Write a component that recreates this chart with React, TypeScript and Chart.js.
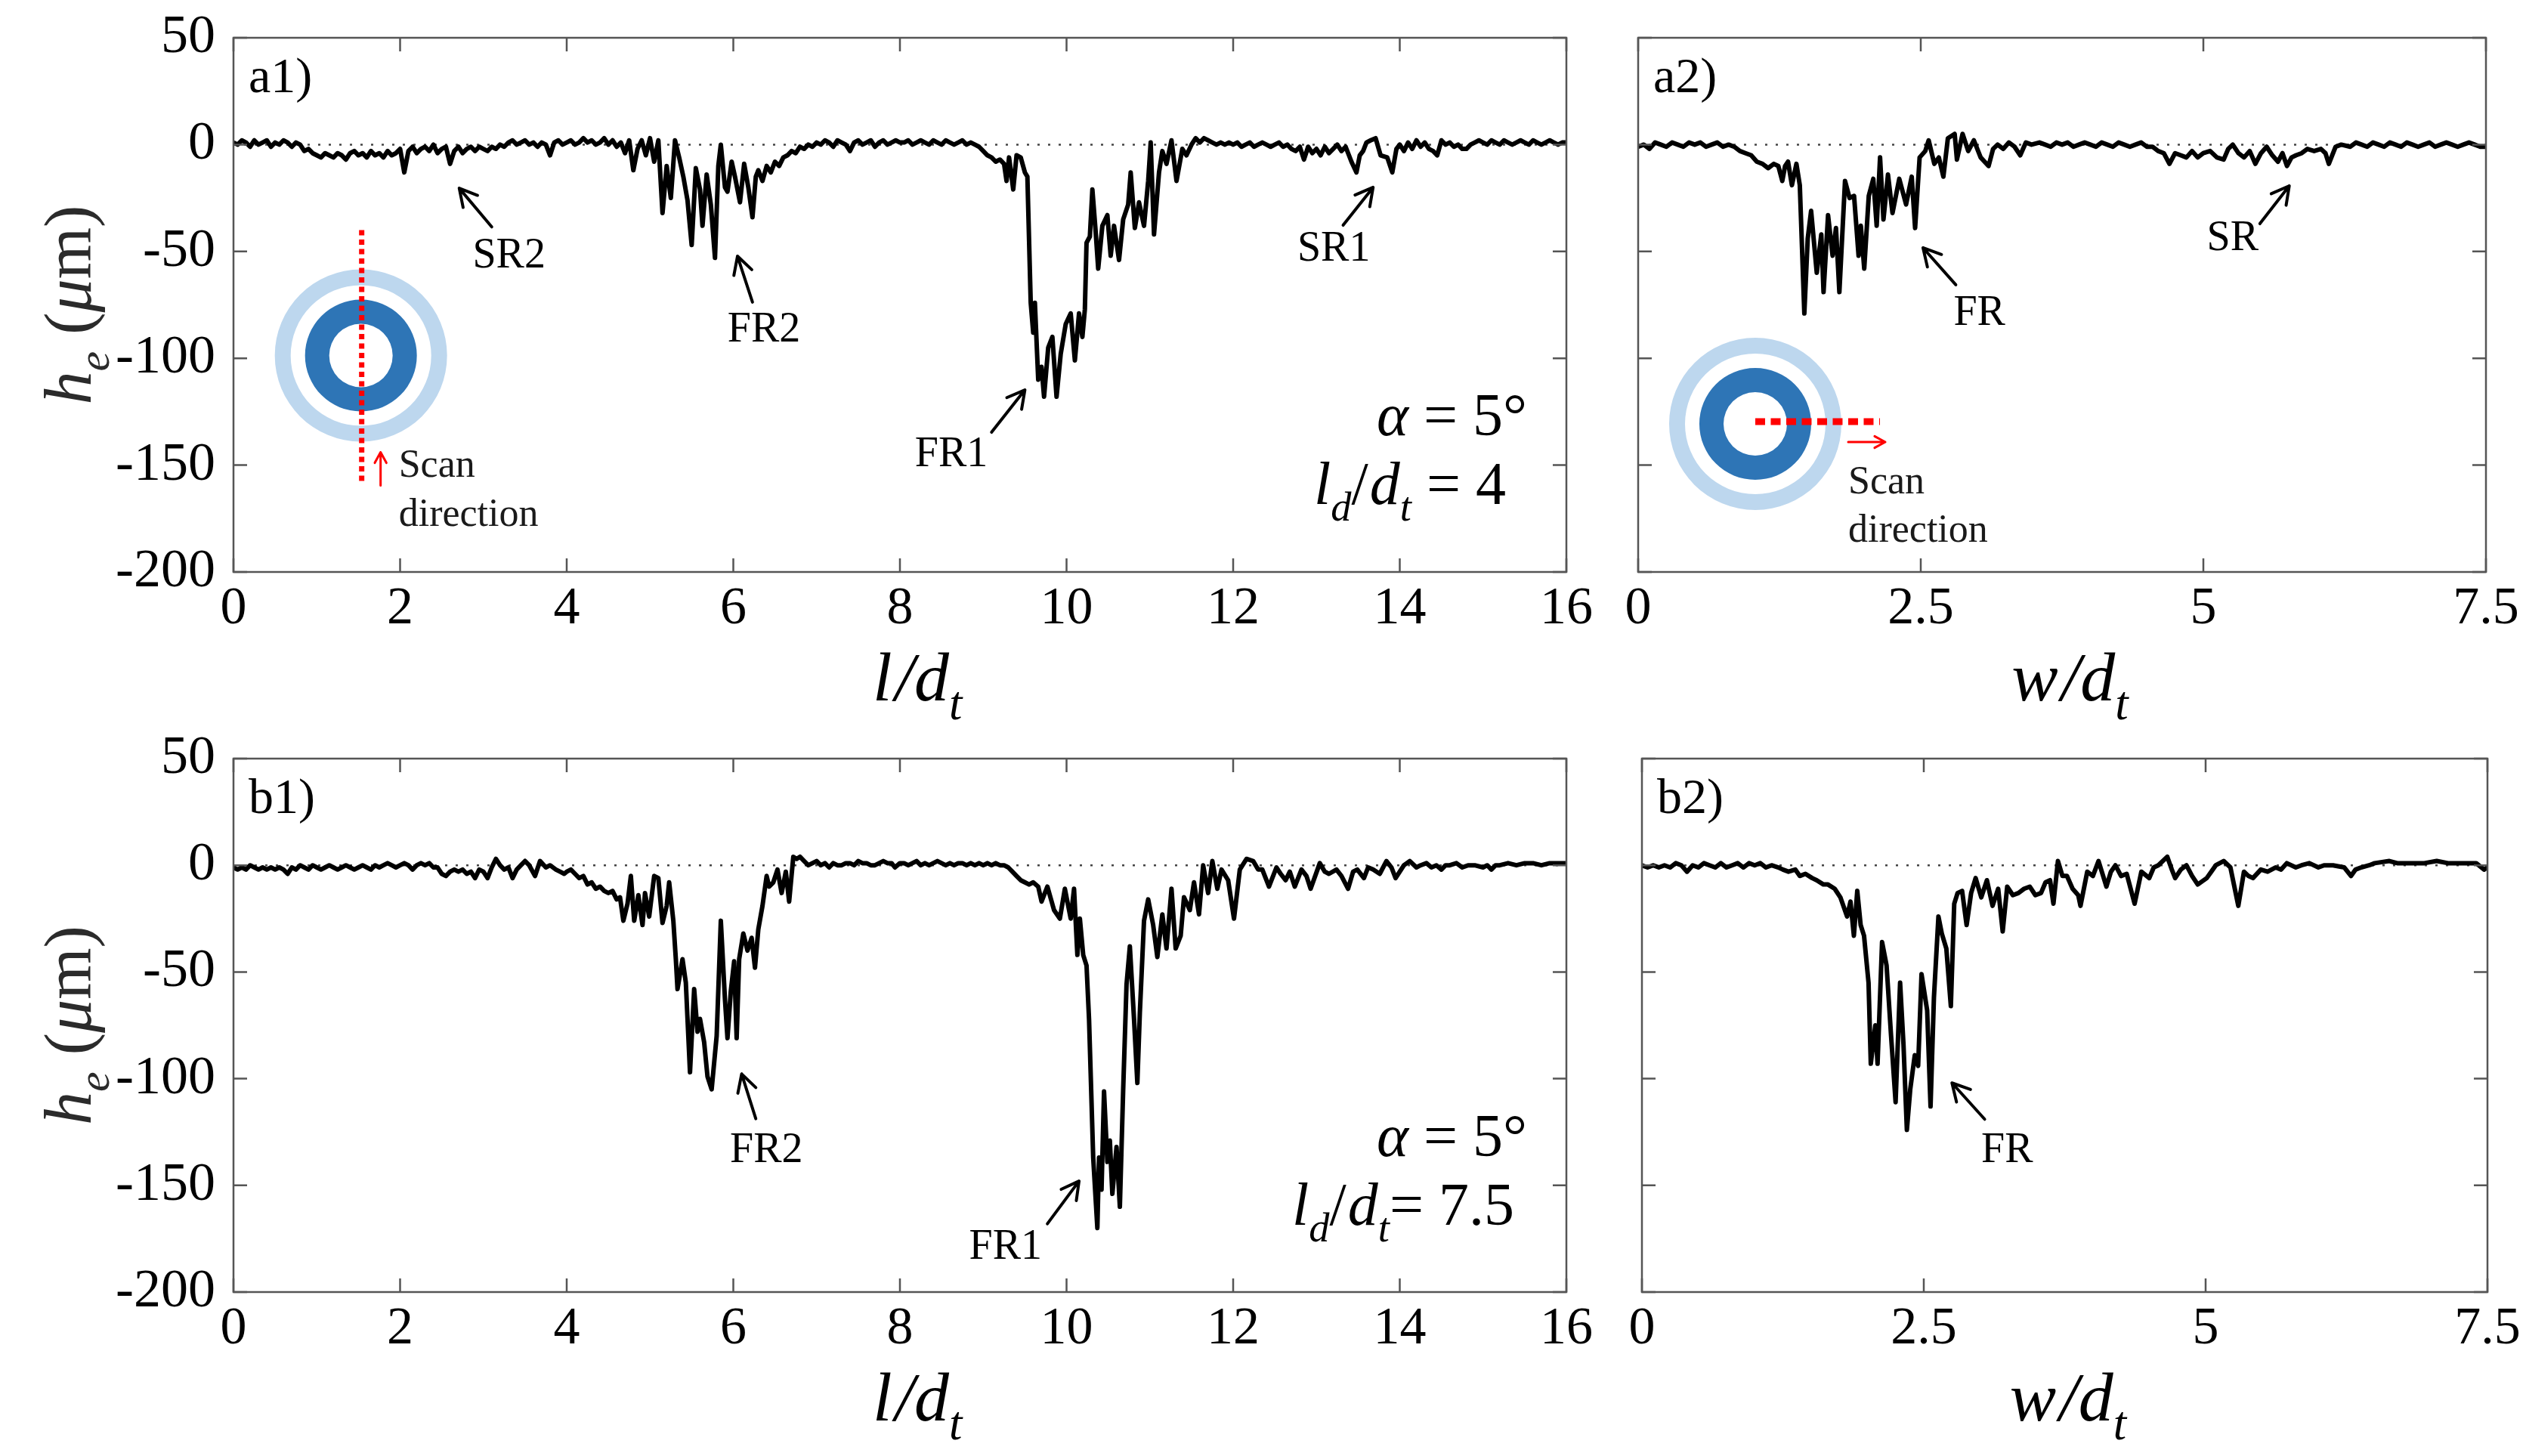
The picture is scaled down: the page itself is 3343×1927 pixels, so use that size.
import React, { useEffect, useRef } from "react";
import { Chart, registerables } from "chart.js";

Chart.register(...registerables);

const W = 3343;
const H = 1927;
const SERIF = "'Liberation Serif', 'Times New Roman', serif";

// ---------------- data (x in l/d_t or w/d_t, h_e in µm) ----------------
const profileA1: [number, number][] = [
  [0,1],[0.05,0],[0.1,2],[0.15,1],[0.2,-1],[0.25,2],[0.3,0],[0.35,1],[0.4,2],[0.45,-1],[0.5,1],[0.55,0],[0.6,2],[0.65,1],[0.7,-1],[0.75,1],[0.8,0],[0.85,-3],[0.9,-2],[0.95,-4],
  [1,-5],[1.05,-6],[1.1,-4],[1.15,-5],[1.2,-6],[1.25,-4],[1.3,-5],[1.35,-7],[1.4,-4],[1.45,-3],[1.5,-5],[1.55,-4],[1.6,-6],[1.65,-3],[1.7,-5],[1.75,-4],[1.8,-6],[1.85,-3],[1.9,-5],[1.95,-4],
  [2,-2],[2.05,-13],[2.1,-3],[2.15,-1],[2.2,-4],[2.25,-2],[2.3,-1],[2.35,-3],[2.4,0],[2.45,-4],[2.5,-2],[2.55,-1],[2.6,-9],[2.65,-3],[2.7,-1],[2.75,-4],[2.8,-2],[2.85,-1],[2.9,-3],[2.95,-1],
  [3,-2],[3.05,-3],[3.1,-1],[3.15,-2],[3.2,0],[3.25,-1],[3.3,1],[3.35,2],[3.4,0],[3.45,1],[3.5,2],[3.55,0],[3.6,1],[3.65,-1],[3.7,1],[3.75,0],[3.8,-5],[3.85,1],[3.9,2],[3.95,0],
  [4,1],[4.05,2],[4.1,0],[4.15,1],[4.2,3],[4.25,1],[4.3,2],[4.35,0],[4.4,1],[4.45,3],[4.5,0],[4.55,2],[4.6,-1],[4.65,1],[4.7,-4],[4.75,2],[4.8,-12],[4.85,-2],[4.9,2],[4.95,-5],
  [5,3],[5.05,-8],[5.1,2],[5.15,-32],[5.2,-10],[5.25,-25],[5.3,2],[5.35,-6],[5.4,-15],[5.45,-26],[5.5,-47],[5.55,-11],[5.6,-21],[5.63,-38],[5.68,-14],[5.73,-28],[5.78,-53],[5.82,-10],[5.85,0],[5.9,-20],
  [5.93,-22],[5.98,-8],[6.02,-15],[6.08,-27],[6.13,-9],[6.18,-20],[6.23,-34],[6.27,-15],[6.3,-12],[6.35,-17],[6.4,-10],[6.45,-13],[6.5,-8],[6.55,-10],[6.6,-6],[6.65,-5],[6.7,-3],[6.75,-4],[6.8,-1],[6.85,-2],
  [6.9,0],[6.95,-1],[7,1],[7.05,0],[7.1,2],[7.15,1],[7.2,-1],[7.25,2],[7.3,1],[7.35,0],[7.4,-3],[7.45,1],[7.5,2],[7.55,0],[7.6,1],[7.65,2],[7.7,-1],[7.75,1],[7.8,2],[7.85,0],
  [7.9,1],[7.95,2],[8,1],[8.05,1],[8.1,2],[8.15,0],[8.2,1],[8.25,2],[8.3,1],[8.35,0],[8.4,2],[8.45,1],[8.5,0],[8.55,2],[8.6,1],[8.65,0],[8.7,1],[8.75,2],[8.8,0],[8.85,1],
  [8.9,0],[8.95,-1],[9,-3],[9.05,-5],[9.1,-6],[9.15,-8],[9.2,-7],[9.25,-9],[9.28,-17],[9.31,-6],[9.36,-21],[9.4,-5],[9.45,-6],[9.5,-13],[9.53,-15],[9.57,-74],[9.6,-88],[9.62,-74],[9.66,-110],[9.7,-104],
  [9.73,-118],[9.78,-95],[9.83,-90],[9.88,-118],[9.93,-98],[9.99,-84],[10.05,-79],[10.1,-101],[10.15,-79],[10.19,-90],[10.22,-77],[10.24,-46],[10.28,-43],[10.31,-21],[10.35,-41],[10.38,-58],[10.43,-38],[10.49,-33],[10.53,-52],[10.57,-38],
  [10.63,-54],[10.68,-35],[10.74,-28],[10.77,-13],[10.82,-39],[10.87,-27],[10.93,-38],[10.98,-17],[11.01,1],[11.05,-42],[11.11,-13],[11.15,-3],[11.2,-9],[11.26,2],[11.32,-17],[11.39,-2],[11.44,-5],[11.5,0],[11.55,3],[11.6,1],
  [11.65,3],[11.7,2],[11.75,1],[11.8,0],[11.85,1],[11.9,0],[11.95,1],[12,0],[12.05,1],[12.1,-1],[12.15,0],[12.2,1],[12.25,-1],[12.3,0],[12.35,1],[12.4,0],[12.45,-1],[12.5,0],[12.55,1],[12.6,-1],
  [12.65,0],[12.7,-2],[12.75,-3],[12.8,-1],[12.85,-7],[12.9,-1],[12.95,-4],[13,-2],[13.05,-5],[13.1,-1],[13.15,-4],[13.2,-2],[13.25,0],[13.3,-3],[13.35,-1],[13.42,-8],[13.48,-13],[13.52,-5],[13.56,-3],[13.6,1],
  [13.65,2],[13.71,3],[13.77,-5],[13.85,-6],[13.91,-13],[13.96,-2],[14,0],[14.05,-3],[14.1,1],[14.15,-2],[14.2,2],[14.25,-1],[14.3,1],[14.35,-2],[14.4,-3],[14.45,-5],[14.5,2],[14.55,0],[14.6,1],[14.65,-1],
  [14.7,0],[14.75,-2],[14.8,-2],[14.85,0],[14.9,1],[14.95,2],[15,1],[15.05,0],[15.1,2],[15.15,1],[15.2,0],[15.25,2],[15.3,1],[15.35,0],[15.4,1],[15.45,2],[15.5,1],[15.55,0],[15.6,2],[15.65,1],
  [15.7,0],[15.75,1],[15.8,2],[15.85,1],[15.9,0],[15.95,1],[16,1],
];

const profileA2: [number, number][] = [
  [0,-1],[0.05,0],[0.1,-2],[0.15,1],[0.2,0],[0.25,-1],[0.3,1],[0.35,0],[0.4,-1],[0.45,1],[0.5,0],[0.55,1],[0.6,-1],[0.65,0],[0.7,1],[0.75,-1],[0.8,0],[0.85,-1],[0.9,-3],[0.95,-4],
  [1,-5],[1.05,-8],[1.1,-9],[1.15,-11],[1.2,-9],[1.24,-10],[1.275,-17],[1.3,-10],[1.326,-8],[1.36,-19],[1.4,-9],[1.43,-19],[1.47,-79],[1.5,-44],[1.53,-31],[1.58,-60],[1.62,-42],[1.64,-69],[1.68,-33],[1.72,-52],
  [1.75,-39],[1.78,-69],[1.83,-17],[1.87,-25],[1.91,-24],[1.95,-52],[1.97,-38],[2,-58],[2.04,-24],[2.08,-16],[2.11,-38],[2.14,-6],[2.17,-35],[2.21,-14],[2.25,-32],[2.31,-16],[2.37,-28],[2.42,-15],[2.45,-39],[2.49,-6],
  [2.54,-3],[2.57,2],[2.62,-9],[2.66,-6],[2.7,-15],[2.74,3],[2.8,5],[2.82,-7],[2.87,5],[2.92,-3],[2.97,2],[3.03,-6],[3.1,-10],[3.14,-2],[3.18,0],[3.23,-2],[3.28,1],[3.33,-1],[3.38,-5],[3.43,1],
  [3.48,0],[3.55,1],[3.6,0],[3.65,-1],[3.7,1],[3.75,0],[3.8,1],[3.85,-1],[3.9,0],[3.95,1],[4,0],[4.05,-1],[4.1,1],[4.15,0],[4.2,-1],[4.25,1],[4.3,0],[4.35,-1],[4.4,0],[4.45,1],
  [4.5,-1],[4.55,-1],[4.6,-3],[4.65,-4],[4.7,-9],[4.75,-4],[4.8,-5],[4.85,-6],[4.9,-3],[4.95,-6],[5,-4],[5.06,-3],[5.12,-6],[5.18,-7],[5.22,-2],[5.26,0],[5.31,-4],[5.36,-6],[5.41,-3],[5.46,-9],
  [5.51,-4],[5.56,-1],[5.61,-5],[5.66,-8],[5.7,-4],[5.74,-10],[5.78,-6],[5.82,-5],[5.87,-4],[5.92,-2],[5.98,-3],[6.04,-2],[6.08,-4],[6.11,-9],[6.17,-1],[6.22,0],[6.3,-1],[6.35,1],[6.4,0],[6.45,-1],
  [6.5,1],[6.55,0],[6.6,-1],[6.65,1],[6.7,0],[6.75,-1],[6.8,1],[6.85,0],[6.9,-1],[6.95,0],[7,1],[7.05,-1],[7.1,0],[7.15,1],[7.2,0],[7.25,-1],[7.3,0],[7.35,1],[7.4,0],[7.45,-1],[7.5,-1],
];

const profileB1: [number, number][] = [
  [0,-1],[0.05,-2],[0.1,-1],[0.15,-2],[0.2,0],[0.25,-1],[0.3,-2],[0.35,-1],[0.4,-2],[0.45,-1],[0.5,-2],[0.55,-1],[0.6,-2],[0.65,-4],[0.7,-1],[0.75,-2],[0.8,0],[0.85,-1],[0.9,-2],[0.95,0],
  [1,-1],[1.05,-2],[1.1,-1],[1.15,0],[1.2,-1],[1.25,-2],[1.3,-1],[1.35,0],[1.4,-1],[1.45,-2],[1.5,-1],[1.55,0],[1.6,-1],[1.65,-2],[1.7,0],[1.75,-1],[1.8,0],[1.85,1],[1.9,0],[1.95,-1],
  [2,0],[2.05,1],[2.1,0],[2.15,-2],[2.2,0],[2.25,1],[2.3,0],[2.35,1],[2.4,-1],[2.45,-1],[2.5,-4],[2.55,-5],[2.6,-3],[2.65,-2],[2.7,-3],[2.75,-2],[2.8,-4],[2.85,-3],[2.9,-6],[2.95,-2],
  [3,-3],[3.05,-6],[3.1,-1],[3.15,3],[3.2,0],[3.25,-2],[3.3,-1],[3.35,-6],[3.4,-2],[3.45,0],[3.5,2],[3.55,0],[3.62,-5],[3.68,2],[3.75,-1],[3.8,0],[3.87,-2],[3.92,-3],[3.97,-4],[4,-3],
  [4.05,-2],[4.1,-4],[4.15,-6],[4.2,-5],[4.25,-9],[4.3,-8],[4.35,-11],[4.4,-10],[4.45,-12],[4.5,-13],[4.55,-12],[4.6,-16],[4.64,-15],[4.68,-26],[4.73,-18],[4.77,-5],[4.81,-26],[4.86,-14],[4.91,-28],[4.94,-13],
  [4.99,-24],[5.05,-5],[5.1,-6],[5.15,-27],[5.2,-19],[5.23,-8],[5.28,-26],[5.31,-44],[5.33,-58],[5.39,-44],[5.43,-55],[5.48,-97],[5.53,-58],[5.57,-78],[5.6,-72],[5.65,-83],[5.69,-99],[5.74,-105],[5.8,-80],[5.85,-26],
  [5.9,-63],[5.93,-81],[5.97,-59],[6.01,-45],[6.04,-81],[6.07,-44],[6.12,-32],[6.17,-40],[6.22,-34],[6.26,-48],[6.3,-30],[6.35,-19],[6.4,-5],[6.43,-10],[6.48,-8],[6.53,-2],[6.58,-13],[6.63,-3],[6.67,-17],[6.72,4],
  [6.76,3],[6.8,4],[6.85,2],[6.9,0],[6.95,1],[7,2],[7.05,0],[7.1,1],[7.15,-1],[7.2,1],[7.25,0],[7.3,0],[7.35,1],[7.4,1],[7.45,0],[7.5,2],[7.55,1],[7.6,1],[7.65,0],[7.7,0],
  [7.75,1],[7.8,2],[7.85,1],[7.9,1],[7.94,-1],[8,1],[8.05,1],[8.1,0],[8.15,1],[8.2,2],[8.25,0],[8.3,1],[8.35,0],[8.4,1],[8.45,2],[8.5,1],[8.55,0],[8.6,1],[8.65,0],[8.7,1],
  [8.75,1],[8.8,0],[8.85,1],[8.9,0],[8.95,1],[9,0],[9.05,1],[9.1,0],[9.15,1],[9.2,0],[9.25,0],[9.3,-1],[9.35,-3],[9.4,-5],[9.45,-7],[9.5,-8],[9.55,-9],[9.6,-8],[9.66,-10],[9.7,-17],
  [9.77,-10],[9.85,-21],[9.92,-25],[9.98,-11],[10.05,-25],[10.09,-11],[10.13,-42],[10.16,-25],[10.2,-42],[10.24,-47],[10.27,-72],[10.32,-137],[10.37,-170],[10.39,-137],[10.42,-152],[10.45,-106],[10.49,-139],[10.52,-129],[10.55,-154],[10.6,-132],
  [10.64,-160],[10.68,-105],[10.72,-56],[10.76,-38],[10.81,-72],[10.85,-102],[10.88,-69],[10.93,-26],[10.98,-16],[11.04,-28],[11.09,-43],[11.15,-23],[11.2,-39],[11.26,-11],[11.31,-39],[11.37,-33],[11.41,-15],[11.48,-21],[11.53,-8],[11.59,-23],
  [11.64,0],[11.7,-13],[11.75,2],[11.81,-11],[11.86,-2],[11.94,-7],[12.01,-25],[12.08,-2],[12.16,3],[12.24,2],[12.3,-2],[12.35,-2],[12.43,-10],[12.52,-1],[12.57,-4],[12.63,-7],[12.68,-3],[12.74,-10],[12.82,-2],[12.88,-5],
  [12.93,-11],[13.04,1],[13.1,-3],[13.15,-4],[13.24,-2],[13.3,-5],[13.38,-11],[13.44,-3],[13.49,-2],[13.57,-6],[13.62,-1],[13.68,-2],[13.76,-4],[13.84,2],[13.9,-1],[13.95,-6],[14.05,0],[14.12,2],[14.2,-1],[14.25,0],
  [14.32,1],[14.38,-1],[14.44,0],[14.5,-2],[14.55,0],[14.6,0],[14.68,1],[14.75,-1],[14.82,0],[14.9,0],[15,-1],[15.05,0],[15.1,-2],[15.15,0],[15.2,0],[15.3,1],[15.4,0],[15.5,1],[15.6,1],[15.7,0],
  [15.8,1],[15.9,1],[16,1],
];

const profileB2: [number, number][] = [
  [0,0],[0.05,-1],[0.1,0],[0.15,-1],[0.2,0],[0.25,-1],[0.3,1],[0.35,0],[0.4,-3],[0.45,0],[0.5,-1],[0.55,1],[0.6,0],[0.65,-1],[0.7,1],[0.75,-1],[0.8,0],[0.85,1],[0.9,-1],[0.95,1],
  [1,0],[1.05,1],[1.1,-1],[1.15,0],[1.21,-1],[1.25,-2],[1.3,-3],[1.36,-2],[1.4,-5],[1.45,-4],[1.51,-6],[1.55,-7],[1.61,-9],[1.65,-9],[1.71,-11],[1.76,-15],[1.82,-24],[1.85,-17],[1.88,-33],[1.91,-12],
  [1.94,-28],[1.97,-33],[2.01,-55],[2.03,-93],[2.07,-75],[2.09,-93],[2.13,-36],[2.17,-47],[2.21,-80],[2.25,-111],[2.29,-55],[2.32,-84],[2.35,-124],[2.38,-105],[2.42,-89],[2.45,-94],[2.48,-51],[2.53,-68],[2.56,-113],[2.59,-62],
  [2.63,-24],[2.66,-32],[2.7,-39],[2.74,-66],[2.77,-18],[2.8,-13],[2.84,-12],[2.88,-28],[2.92,-13],[2.96,-6],[3.01,-15],[3.06,-7],[3.11,-19],[3.16,-11],[3.2,-31],[3.24,-10],[3.29,-14],[3.34,-13],[3.39,-11],[3.44,-10],
  [3.49,-14],[3.54,-13],[3.58,-8],[3.62,-7],[3.65,-18],[3.69,2],[3.73,-5],[3.77,-5],[3.82,-11],[3.87,-14],[3.89,-19],[3.95,-3],[4,-5],[4.05,2],[4.12,-10],[4.16,-3],[4.2,0],[4.25,-5],[4.3,-4],[4.37,-18],
  [4.43,-3],[4.5,-6],[4.54,-1],[4.58,0],[4.66,4],[4.7,-2],[4.73,-6],[4.78,-2],[4.83,0],[4.88,-5],[4.93,-9],[5.01,-6],[5.05,-3],[5.09,0],[5.16,2],[5.22,-1],[5.29,-19],[5.34,-3],[5.38,-5],[5.42,-6],
  [5.49,-2],[5.55,-3],[5.62,-1],[5.67,-2],[5.72,1],[5.8,-1],[5.85,0],[5.92,1],[6,-1],[6.05,0],[6.13,0],[6.23,-1],[6.29,-5],[6.33,-2],[6.38,-1],[6.45,0],[6.5,1],[6.63,2],[6.7,1],[6.8,1],
  [6.94,1],[7.05,2],[7.15,1],[7.25,1],[7.34,1],[7.4,1],[7.47,-2],[7.5,-1],
];

const heightTicks = [50, 0, -50, -100, -150, -200];
const lengthTicks = [0, 2, 4, 6, 8, 10, 12, 14, 16];
const widthTicks = [0, 2.5, 5, 7.5];

// ---------------- text helpers ----------------
type Seg = { t: string; it?: boolean; sub?: boolean; gap?: number };

function fontOf(s: Seg, size: number) {
  const sz = s.sub ? size * 0.68 : size;
  return `${s.it ? "italic " : ""}${sz}px ${SERIF}`;
}

function drawRich(ctx: CanvasRenderingContext2D, segs: Seg[], x: number, y: number, size: number, align: "left" | "center" | "right", color = "#000") {
  ctx.save();
  ctx.fillStyle = color;
  ctx.textBaseline = "alphabetic";
  ctx.textAlign = "left";
  let total = 0;
  const ws = segs.map((s) => {
    ctx.font = fontOf(s, size);
    const w = ctx.measureText(s.t).width + (s.gap || 0);
    total += w;
    return w;
  });
  let cx = align === "left" ? x : align === "center" ? x - total / 2 : x - total;
  segs.forEach((s, i) => {
    ctx.font = fontOf(s, size);
    ctx.fillText(s.t, cx, y + (s.sub ? size * 0.27 : 0));
    cx += ws[i];
  });
  ctx.restore();
}

function drawArrow(ctx: CanvasRenderingContext2D, x1: number, y1: number, x2: number, y2: number, color: string, lw: number, head: number) {
  const a = Math.atan2(y2 - y1, x2 - x1);
  ctx.save();
  ctx.strokeStyle = color;
  ctx.lineWidth = lw;
  ctx.lineCap = "round";
  ctx.lineJoin = "round";
  ctx.beginPath();
  ctx.moveTo(x1, y1);
  ctx.lineTo(x2, y2);
  ctx.moveTo(x2 - head * Math.cos(a - 0.5), y2 - head * Math.sin(a - 0.5));
  ctx.lineTo(x2, y2);
  ctx.lineTo(x2 - head * Math.cos(a + 0.5), y2 - head * Math.sin(a + 0.5));
  ctx.stroke();
  ctx.restore();
}

function ring(ctx: CanvasRenderingContext2D, cx: number, cy: number, rOut: number, rIn: number, color: string) {
  ctx.save();
  ctx.fillStyle = color;
  ctx.beginPath();
  ctx.arc(cx, cy, rOut, 0, Math.PI * 2);
  ctx.arc(cx, cy, rIn, 0, Math.PI * 2, true);
  ctx.fill("evenodd");
  ctx.restore();
}

// ---------------- panel definitions ----------------
type Ann = { text: string; at: [number, number]; tail: [number, number]; head: [number, number] };
type Panel = {
  id: string;
  profile: [number, number][];
  xmax: number;
  xTicks: number[];
  L: number; R: number; T: number; B: number;
  showY: boolean;
  label: string;
  xVar: string;
  xTitleAt: number;
  anns: Ann[];
  inset?: { at: [number, number]; dir: "v" | "h" };
  params?: { ld: string; alphaRight: number; ldRight: number };
};

const PANELS: Panel[] = [
  {
    id: "a1", profile: profileA1, xmax: 16, xTicks: lengthTicks, L: 309, R: 2073, T: 50, B: 757, showY: true,
    label: "a1)", xVar: "l", xTitleAt: 8.21,
    anns: [
      { text: "SR2", at: [2.87, -57.5], tail: [3.1, -38.5], head: [2.71, -20.4] },
      { text: "FR2", at: [5.93, -92], tail: [6.23, -73.7], head: [6.05, -52.2] },
      { text: "FR1", at: [8.18, -150.5], tail: [9.1, -134.6], head: [9.5, -114.8] },
      { text: "SR1", at: [12.77, -54.3], tail: [13.32, -37.7], head: [13.68, -20] },
    ],
    inset: { at: [1.53, -98.7], dir: "v" },
    params: { ld: " = 4", alphaRight: 52, ldRight: 80 },
  },
  {
    id: "a2", profile: profileA2, xmax: 7.5, xTicks: widthTicks, L: 2168, R: 3290, T: 50, B: 757, showY: false,
    label: "a2)", xVar: "w", xTitleAt: 3.82,
    anns: [
      { text: "FR", at: [2.79, -84.4], tail: [2.81, -65.6], head: [2.52, -48.3] },
      { text: "SR", at: [5.03, -49.4], tail: [5.5, -37], head: [5.76, -19.3] },
    ],
    inset: { at: [1.036, -130.7], dir: "h" },
  },
  {
    id: "b1", profile: profileB1, xmax: 16, xTicks: lengthTicks, L: 309, R: 2073, T: 1004, B: 1710, showY: true,
    label: "b1)", xVar: "l", xTitleAt: 8.21,
    anns: [
      { text: "FR2", at: [5.96, -139], tail: [6.27, -118.8], head: [6.1, -97.8] },
      { text: "FR1", at: [8.83, -184.4], tail: [9.77, -168], head: [10.15, -148] },
    ],
    params: { ld: "= 7.5", alphaRight: 52, ldRight: 69 },
  },
  {
    id: "b2", profile: profileB2, xmax: 7.5, xTicks: widthTicks, L: 2173, R: 3292, T: 1004, B: 1710, showY: false,
    label: "b2)", xVar: "w", xTitleAt: 3.78,
    anns: [
      { text: "FR", at: [3.01, -139], tail: [3.04, -119], head: [2.75, -102] },
    ],
  },
];

const AXIS_W = 240;
const AXIS_H = 100;

function framePlugin(p: Panel) {
  return {
    id: "frame_" + p.id,
    afterDraw(chart: any) {
      const ctx: CanvasRenderingContext2D = chart.ctx;
      const { left, right, top, bottom } = chart.chartArea;
      const xs = chart.scales.x;
      const ys = chart.scales.y;
      const px = (v: number) => xs.getPixelForValue(v);
      const py = (v: number) => ys.getPixelForValue(v);

      // box + inward ticks
      ctx.save();
      ctx.strokeStyle = "#555";
      ctx.lineWidth = 2.5;
      ctx.strokeRect(left, top, right - left, bottom - top);
      const tl = 18;
      ctx.beginPath();
      p.xTicks.forEach((v) => {
        const x = px(v);
        ctx.moveTo(x, bottom); ctx.lineTo(x, bottom - tl);
        ctx.moveTo(x, top); ctx.lineTo(x, top + tl);
      });
      heightTicks.forEach((v) => {
        const y = py(v);
        ctx.moveTo(left, y); ctx.lineTo(left + tl, y);
        ctx.moveTo(right, y); ctx.lineTo(right - tl, y);
      });
      ctx.stroke();
      ctx.restore();

      // panel label
      drawRich(ctx, [{ t: p.label }], left + 20, top + 72, 66, "left");

      // axis titles
      drawRich(ctx, [{ t: p.xVar, it: true, gap: 4 }, { t: "/", it: true }, { t: "d", it: true }, { t: "t", it: true, sub: true }], px(p.xTitleAt), bottom + 170, 92, "center");
      if (p.showY) {
        ctx.save();
        ctx.translate(left - 189, (top + bottom) / 2);
        ctx.rotate(-Math.PI / 2);
        drawRich(ctx, [{ t: "h", it: true }, { t: "e", it: true, sub: true }, { t: " (" }, { t: "μ", it: true }, { t: "m" }, { t: ")" }], 0, 0, 88, "center", "#2b2b2b");
        ctx.restore();
      }

      // annotations
      p.anns.forEach((a) => {
        drawRich(ctx, [{ t: a.text }], px(a.at[0]), py(a.at[1]), 56, "left");
        drawArrow(ctx, px(a.tail[0]), py(a.tail[1]), px(a.head[0]), py(a.head[1]), "#000", 4, 26);
      });

      // parameters
      if (p.params) {
        drawRich(ctx, [{ t: "α", it: true }, { t: " = 5°" }], right - p.params.alphaRight, top + 526, 80, "right");
        drawRich(ctx, [{ t: "l", it: true }, { t: "d", it: true, sub: true }, { t: "/", gap: 2 }, { t: "d", it: true }, { t: "t", it: true, sub: true }, { t: p.params.ld }], right - p.params.ldRight, top + 617, 80, "right");
      }

      // inset sketch
      if (p.inset) {
        const cx = px(p.inset.at[0]);
        const cy = py(p.inset.at[1]);
        ring(ctx, cx, cy, 114, 93, "#bdd7ee");
        ring(ctx, cx, cy, 74, 42, "#2e75b6");
        ctx.save();
        ctx.strokeStyle = "#ff0000";
        if (p.inset.dir === "v") {
          ctx.lineWidth = 7;
          ctx.setLineDash([7, 5.5]);
          ctx.beginPath();
          ctx.moveTo(cx + 1, cy - 166);
          ctx.lineTo(cx + 1, cy + 170);
          ctx.stroke();
          ctx.restore();
          drawArrow(ctx, cx + 26, cy + 172, cx + 26, cy + 128, "#ff0000", 3, 16);
          drawRich(ctx, [{ t: "Scan" }], cx + 50, cy + 160, 52, "left", "#1a1a1a");
          drawRich(ctx, [{ t: "direction" }], cx + 50, cy + 225, 52, "left", "#1a1a1a");
        } else {
          ctx.lineWidth = 9;
          ctx.setLineDash([13, 7.5]);
          ctx.beginPath();
          ctx.moveTo(cx, cy - 3);
          ctx.lineTo(cx + 165, cy - 3);
          ctx.stroke();
          ctx.restore();
          drawArrow(ctx, cx + 123, cy + 24, cx + 172, cy + 24, "#ff0000", 3, 16);
          drawRich(ctx, [{ t: "Scan" }], cx + 123, cy + 92, 52, "left", "#1a1a1a");
          drawRich(ctx, [{ t: "direction" }], cx + 123, cy + 156, 52, "left", "#1a1a1a");
        }
      }
    },
  };
}

function buildConfig(p: Panel): any {
  const pts = p.profile.map(([x, y]) => ({ x, y }));
  return {
    type: "line",
    data: {
      datasets: [
        { data: pts, borderColor: "#000", borderWidth: 6, pointRadius: 0, tension: 0, fill: false, order: 0, borderJoinStyle: "round" },
        { data: [{ x: 0, y: 0 }, { x: p.xmax, y: 0 }], borderColor: "#444", borderWidth: 2.5, borderDash: [3, 11], pointRadius: 0, fill: false, order: 1 },
      ],
    },
    options: {
      responsive: false,
      animation: false,
      devicePixelRatio: 1,
      events: [],
      layout: { padding: { left: p.L - AXIS_W, right: W - p.R, top: p.T, bottom: H - p.B - AXIS_H } },
      plugins: { legend: { display: false }, tooltip: { enabled: false } },
      scales: {
        x: {
          type: "linear",
          min: 0,
          max: p.xmax,
          afterBuildTicks: (s: any) => { s.ticks = p.xTicks.map((v) => ({ value: v })); },
          afterFit: (s: any) => { s.height = AXIS_H; s.paddingLeft = 0; s.paddingRight = 0; s.paddingTop = 0; s.paddingBottom = 0; },
          grid: { display: false, drawTicks: false },
          border: { display: false },
          ticks: { autoSkip: false, maxRotation: 0, padding: 8, color: "#000", font: { family: SERIF, size: 70 }, callback: (v: any) => String(v) },
        },
        y: {
          type: "linear",
          min: -200,
          max: 50,
          afterBuildTicks: (s: any) => { s.ticks = heightTicks.map((v) => ({ value: v })); },
          afterFit: (s: any) => { s.width = AXIS_W; s.paddingLeft = 0; s.paddingRight = 0; s.paddingTop = 0; s.paddingBottom = 0; },
          grid: { display: false, drawTicks: false },
          border: { display: false },
          ticks: { display: p.showY, autoSkip: false, padding: 24, color: "#000", font: { family: SERIF, size: 72 }, callback: (v: any) => String(v) },
        },
      },
    },
    plugins: [framePlugin(p)],
  };
}

export default function App() {
  const refs = useRef<(HTMLCanvasElement | null)[]>([]);
  useEffect(() => {
    const charts = PANELS.map((p, i) => new Chart(refs.current[i] as HTMLCanvasElement, buildConfig(p)));
    return () => charts.forEach((c) => c.destroy());
  }, []);
  return (
    <div style={{ position: "absolute", left: 0, top: 0, width: W, height: H, background: "#fff", overflow: "hidden" }}>
      {PANELS.map((p, i) => (
        <canvas
          key={p.id}
          ref={(el) => { refs.current[i] = el; }}
          width={W}
          height={H}
          style={{ position: "absolute", left: 0, top: 0, width: W, height: H }}
        />
      ))}
    </div>
  );
}
